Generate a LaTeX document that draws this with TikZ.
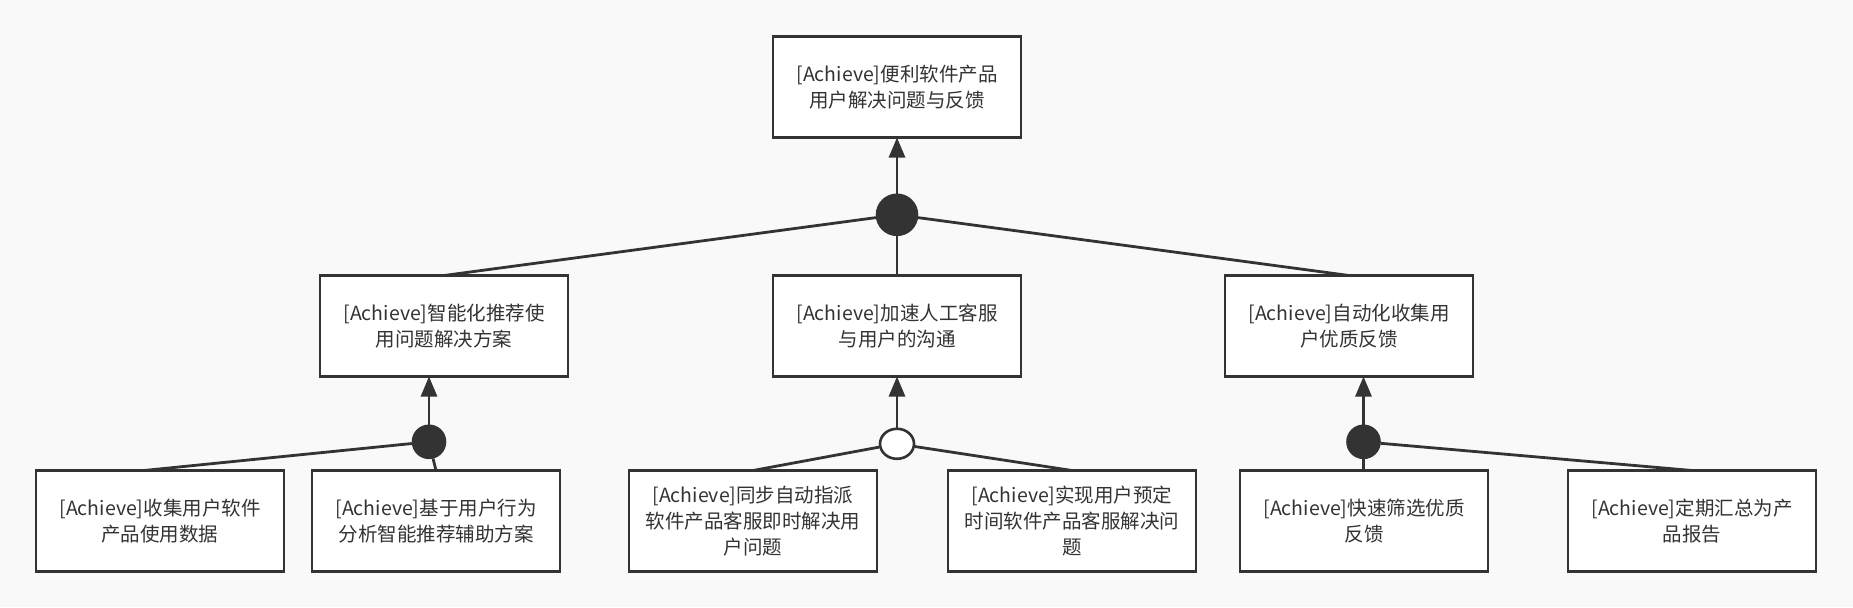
\documentclass[tikz,border=0pt]{standalone}
\usepackage{fontspec}
\setmainfont{Noto Sans CJK SC}
\usetikzlibrary{positioning, arrows.meta}
\definecolor{ink}{HTML}{333333}
\definecolor{paper}{HTML}{F9F9F9}
\tikzset{
    goal/.style={draw=ink, line width=1.4pt, fill=white, rectangle, minimum width=124pt, minimum height=50.5pt, outer sep=0pt, align=center, text=ink, font=\fontsize{9.75pt}{13pt}\selectfont},
    anddot/.style={circle, draw=ink, fill=ink, line width=1.3pt, inner sep=0pt, minimum size=16pt},
    bigdot/.style={anddot, minimum size=20pt},
    ordot/.style={ellipse, draw=ink, fill=white, line width=1.3pt, inner sep=0pt, minimum width=17pt, minimum height=15pt},
    refine/.style={draw=ink, line width=1.4pt},
    achieve/.style={refine, -{Triangle[width=8pt, length=10pt]}} }
\usetikzlibrary{shapes.geometric}

\begin{document}
\begin{tikzpicture}
			\fill[paper] (0,0) rectangle (926.5pt,303.5pt);
			\useasboundingbox (0,0) rectangle (926.5pt,303.5pt);
			\node[goal] (solve) at (448.5pt,260pt) {[Achieve]便利软件产品\\用户解决问题与反馈};
			\node[bigdot, below = 28pt of solve] (and1) {};
			\node[goal, below = 69pt of solve] (service) {[Achieve]加速人工客服\\与用户的沟通};
			\node[goal, left = 102.5pt of service] (recommend) {[Achieve]智能化推荐使\\用问题解决方案};
			\node[goal, right = 102pt of service] (feedback) {[Achieve]自动化收集用\\户优质反馈};
			\node[anddot, below = 24pt of recommend, xshift=-7.5pt] (and2) {};
			\node[ordot, below = 25.5pt of service] (or1) {};
			\node[anddot, below = 24pt of feedback, xshift=7.25pt] (and3) {};
			\node[goal, below = 47pt of service, xshift=-72pt] (dispatch) {[Achieve]同步自动指派\\软件产品客服即时解决用\\户问题};
			\node[goal, left = 34.5pt of dispatch] (analyse) {[Achieve]基于用户行为\\分析智能推荐辅助方案};
			\node[goal, left = 14pt of analyse] (collect) {[Achieve]收集用户软件\\产品使用数据};
			\node[goal, right = 35.5pt of dispatch] (schedule) {[Achieve]实现用户预定\\时间软件产品客服解决问\\题};
			\node[goal, right = 22pt of schedule] (filter) {[Achieve]快速筛选优质\\反馈};
			\node[goal, right = 40pt of filter] (report) {[Achieve]定期汇总为产\\品报告};
			% ----
			\draw[achieve] (and1) -- (solve);
			\draw[refine] (and1) -- (recommend.north);
			\draw[refine] (and1) -- (service);
			\draw[refine] (and1) -- (feedback.north);
			% ----
			\draw[achieve] (and2) -- (and2 |- recommend.south);
			\draw[refine] (and2) -- ([xshift=-8pt]collect.north);
			\draw[refine] (and2) -- (analyse.north);
			% ----
			\draw[achieve] (or1) -- (service);
			\draw[refine] (or1) -- (dispatch.north);
			\draw[refine] (or1) -- (schedule.north);
			% ----
			\draw[achieve] (and3) -- (and3 |- feedback.south);
			\draw[refine] (and3) -- (and3 |- filter.north);
			\draw[refine] (and3) -- (report.north);
		\end{tikzpicture}
\end{document}
